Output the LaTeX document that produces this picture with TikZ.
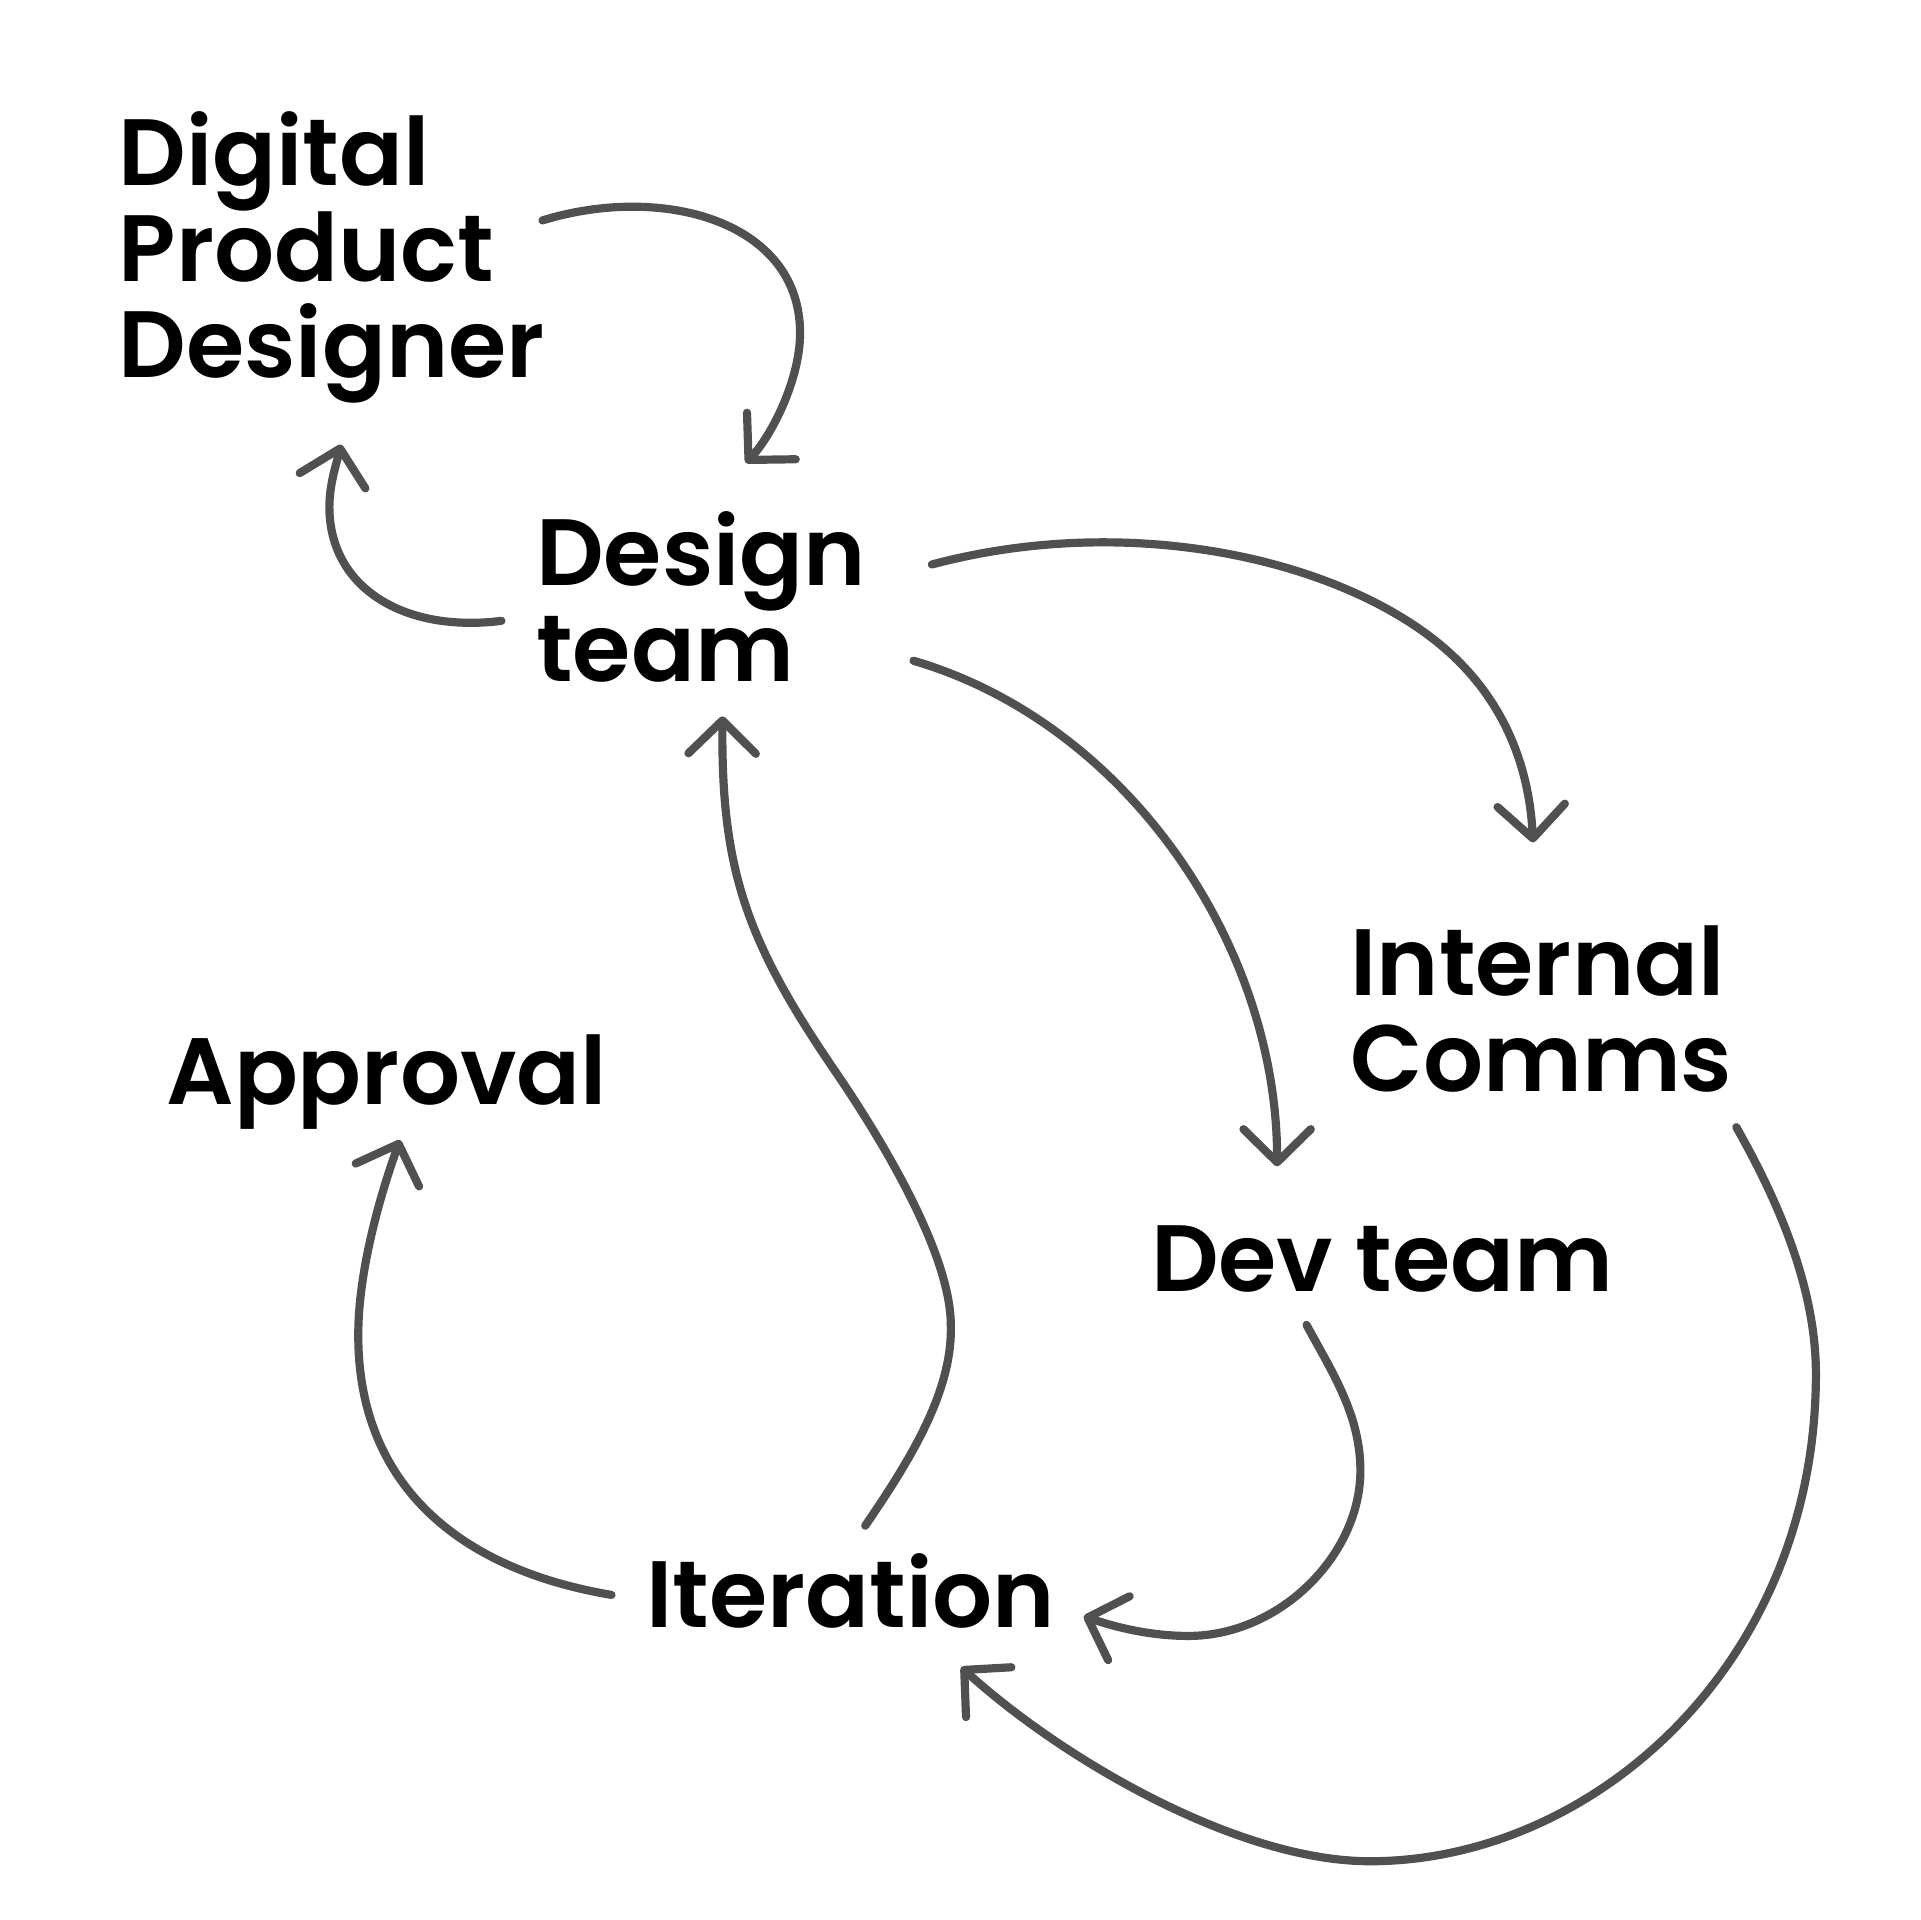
\documentclass[tikz,border=0pt]{standalone}
\usepackage{fontspec}
\newfontfamily\popfont{Poppins SemiBold}
\usetikzlibrary{arrows.meta}
\definecolor{conn}{HTML}{505050}
\tikzset{
  lbl/.style={anchor=base west, inner sep=0pt, outer sep=0pt, align=left,
    font=\popfont\fontsize{21.9pt}{22.2pt}\selectfont, text=black},
  link/.style={draw=conn, line width=1.9pt, line cap=round, line join=round,
    -{Straight Barb[length=0.27cm, width=0.55cm, round]}},
}
\begin{document}
\begin{tikzpicture}[x=0.01cm, y=-0.01cm]
\useasboundingbox (0,0) rectangle (1568,1568);
% labels (base = baseline of the last line)
\node[lbl] (dpd) at (97,308) {Digital\\Product\\Designer};
\node[lbl] (design) at (438,556.4) {Design\\team};
\node[lbl] (comms) at (1103,891) {Internal\\Comms};
\node[lbl] (approval) at (136,902) {Approval};
\node[lbl] (dev) at (940,1054.6) {Dev team};
\node[lbl] (iter) at (528,1329.5) {Iteration};
% connector end points
\coordinate (dpd-out) at (443,180);
\coordinate (design-in1) at (609,378);
\coordinate (design-out1) at (409.5,507);
\coordinate (dpd-in) at (278.5,363);
\coordinate (design-out2) at (761,461);
\coordinate (comms-in) at (1252,688);
\coordinate (design-out3) at (746,539.6);
\coordinate (dev-in) at (1043,952.5);
\coordinate (iter-out1) at (706.6,1246);
\coordinate (design-in2) at (590,585);
\coordinate (iter-out2) at (499.4,1302.5);
\coordinate (approval-in) at (326.7,931);
\coordinate (dev-out) at (1067,1082);
\coordinate (iter-in1) at (885,1320);
\coordinate (comms-out) at (1418,920.5);
\coordinate (iter-in2) at (785,1361.5);
% connectors
\draw[link] (dpd-out) .. controls (540,150) and (653.4,180) .. (653.4,272)
  .. controls (653.4,310) and (630,356) .. (design-in1);
\draw[link] (design-out1) .. controls (330,517) and (269,480) .. (269,414)
  .. controls (269,395) and (275,378) .. (dpd-in);
\draw[link] (design-out2) .. controls (916,419.6) and (1079.3,453.4) .. (1167.3,519.4)
  .. controls (1235.3,570.4) and (1249.5,638) .. (comms-in);
\draw[link] (design-out3) .. controls (918.8,590) and (1043,770) .. (dev-in);
\draw[link] (iter-out1) .. controls (745,1190) and (778,1135) .. (776.5,1082.2)
  .. controls (776.5,1022) and (716.3,925) .. (682.5,875.5)
  .. controls (609,768) and (589,710) .. (design-in2);
\draw[link] (iter-out2) .. controls (366,1280) and (292,1205) .. (292.6,1089.5)
  .. controls (292.6,1039.5) and (309.7,978) .. (approval-in);
\draw[link] (dev-out) .. controls (1088.6,1121.7) and (1111,1156) .. (1111,1201)
  .. controls (1111,1270) and (1045,1336) .. (970.7,1336)
  .. controls (940.7,1336) and (913.5,1329.6) .. (iter-in1);
\draw[link] (comms-out) .. controls (1452.6,981.6) and (1483,1052) .. (1483,1122)
  .. controls (1483,1360) and (1300,1520) .. (1119,1520)
  .. controls (1009,1520) and (865.4,1434.7) .. (iter-in2);
\end{tikzpicture}
\end{document}
